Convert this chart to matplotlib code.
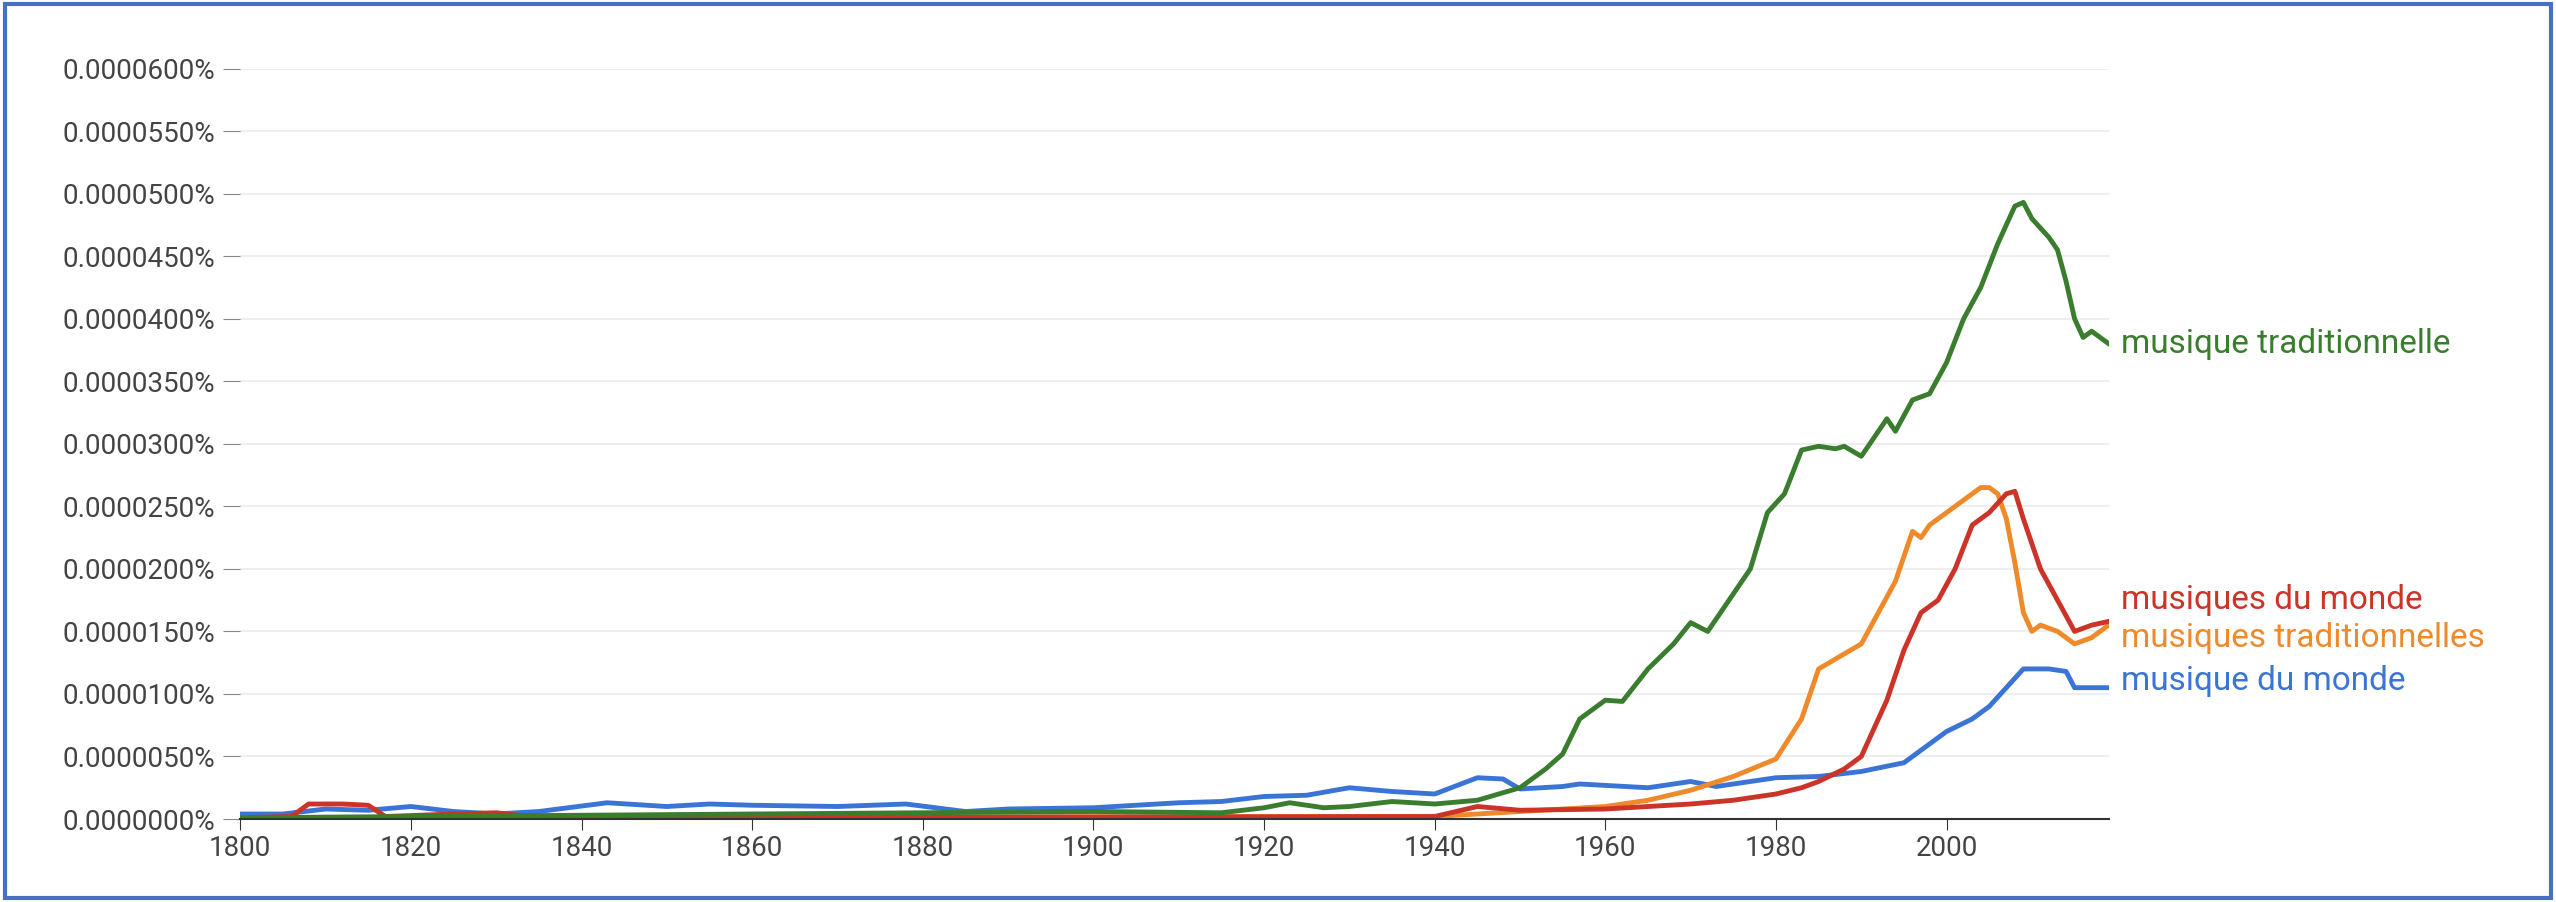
import matplotlib
matplotlib.use("Agg")
import matplotlib.pyplot as plt
from matplotlib.patches import Rectangle

plt.rcParams["font.family"] = ["Roboto", "DejaVu Sans"]

# values in units of 0.000001 %
trad_years = [1800, 1900, 1915, 1920, 1923, 1927, 1930, 1935, 1940, 1945, 1950, 1953, 1955, 1957, 1960,
              1962, 1965, 1968, 1970, 1972, 1975, 1977, 1979, 1981, 1983, 1985, 1987, 1988, 1990,
              1992, 1993, 1994, 1996, 1998, 2000, 2002, 2004, 2006, 2008, 2009, 2010, 2012, 2013,
              2014, 2015, 2016, 2017, 2019]
trad_vals = [0.1, 0.6, 0.5, 0.9, 1.3, 0.9, 1.0, 1.4, 1.2, 1.5, 2.5, 4.0, 5.2, 8.0, 9.5,
             9.4, 12.0, 14.0, 15.7, 15.0, 18.0, 20.0, 24.5, 26.0, 29.5, 29.8, 29.6, 29.8, 29.0,
             31.0, 32.0, 31.0, 33.5, 34.0, 36.5, 40.0, 42.5, 46.0, 49.0, 49.3, 48.0, 46.5, 45.5,
             43.0, 40.0, 38.5, 39.0, 38.0]

trads_years = [1800, 1940, 1950, 1960, 1965, 1970, 1975, 1980, 1983, 1985, 1987, 1990, 1992,
               1994, 1996, 1997, 1998, 2000, 2002, 2004, 2005, 2006, 2007, 2008, 2009, 2010,
               2011, 2013, 2015, 2017, 2019]
trads_vals = [0.1, 0.2, 0.6, 1.0, 1.5, 2.3, 3.4, 4.8, 8.0, 12.0, 12.8, 14.0, 16.5,
              19.0, 23.0, 22.5, 23.5, 24.5, 25.5, 26.5, 26.5, 26.0, 24.0, 20.5, 16.5, 15.0,
              15.5, 15.0, 14.0, 14.5, 15.5]

mdm_years = [1800, 1806, 1808, 1812, 1815, 1817, 1825, 1830, 1835, 1940, 1945, 1950, 1960,
             1970, 1975, 1980, 1983, 1985, 1988, 1990, 1993, 1995, 1997, 1999, 2001, 2003,
             2005, 2007, 2008, 2009, 2011, 2013, 2015, 2017, 2019]
mdm_vals = [0.1, 0.2, 1.2, 1.2, 1.1, 0.2, 0.4, 0.5, 0.1, 0.2, 1.0, 0.7, 0.8,
            1.2, 1.5, 2.0, 2.5, 3.0, 4.0, 5.0, 9.5, 13.5, 16.5, 17.5, 20.0, 23.5,
            24.5, 26.0, 26.2, 24.0, 20.0, 17.5, 15.0, 15.5, 15.8]

mdu_years = [1800, 1805, 1810, 1815, 1820, 1825, 1830, 1835, 1843, 1850, 1855, 1860, 1870,
             1878, 1885, 1890, 1900, 1910, 1915, 1920, 1925, 1930, 1935, 1940, 1945, 1948,
             1950, 1955, 1957, 1965, 1970, 1973, 1980, 1985, 1990, 1995, 2000, 2003, 2005,
             2007, 2009, 2012, 2014, 2015, 2017, 2019]
mdu_vals = [0.4, 0.4, 0.8, 0.7, 1.0, 0.6, 0.4, 0.6, 1.3, 1.0, 1.2, 1.1, 1.0,
            1.2, 0.6, 0.8, 0.9, 1.3, 1.4, 1.8, 1.9, 2.5, 2.2, 2.0, 3.3, 3.2,
            2.4, 2.6, 2.8, 2.5, 3.0, 2.6, 3.3, 3.4, 3.8, 4.5, 7.0, 8.0, 9.0,
            10.5, 12.0, 12.0, 11.8, 10.5, 10.5, 10.5]

series = [
    ("musique traditionnelle", trad_years, trad_vals, "#3b7d2f"),
    ("musiques du monde", mdm_years, mdm_vals, "#cc3329"),
    ("musiques traditionnelles", trads_years, trads_vals, "#ef8a2b"),
    ("musique du monde", mdu_years, mdu_vals, "#3a75d6"),
]
label_y = {"musique traditionnelle": 38.0, "musiques du monde": 17.5,
           "musiques traditionnelles": 14.5, "musique du monde": 11.0}

fig = plt.figure(figsize=(25.56, 9.02), dpi=100)
ax = fig.add_axes([0.094, 0.092, 0.731, 0.832])

for name, xs, ys, col in series[::-1]:
    ax.plot(xs, ys, color=col, linewidth=3.5, solid_joinstyle="round")
for name, xs, ys, col in series:
    ax.text(2020.5, label_y[name], name, color=col, fontsize=24, va="center")

ax.set_xlim(1800, 2019)
ax.set_ylim(0, 60)
ax.set_yticks(range(0, 61, 5))
ax.yaxis.set_major_formatter(plt.FuncFormatter(lambda v, _: f"{v * 1e-6:.7f}%"))
ax.set_xticks(range(1800, 2001, 20))
ax.grid(axis="y", color="#eeeeee", linewidth=1.5)
ax.set_axisbelow(True)
for s in ["top", "right", "left"]:
    ax.spines[s].set_visible(False)
ax.spines["bottom"].set_color("#333333")
ax.spines["bottom"].set_linewidth(1.5)
ax.tick_params(axis="y", length=12, color="#888888", labelsize=20, labelcolor="#444444", pad=6)
ax.tick_params(axis="x", length=8, color="#333333", labelsize=20, labelcolor="#444444")

fig.patches.append(Rectangle((0.002, 0.004), 0.996, 0.992, transform=fig.transFigure,
                             fill=False, edgecolor="#4a6fc0", linewidth=3))
fig.savefig("out.png", dpi=100)
